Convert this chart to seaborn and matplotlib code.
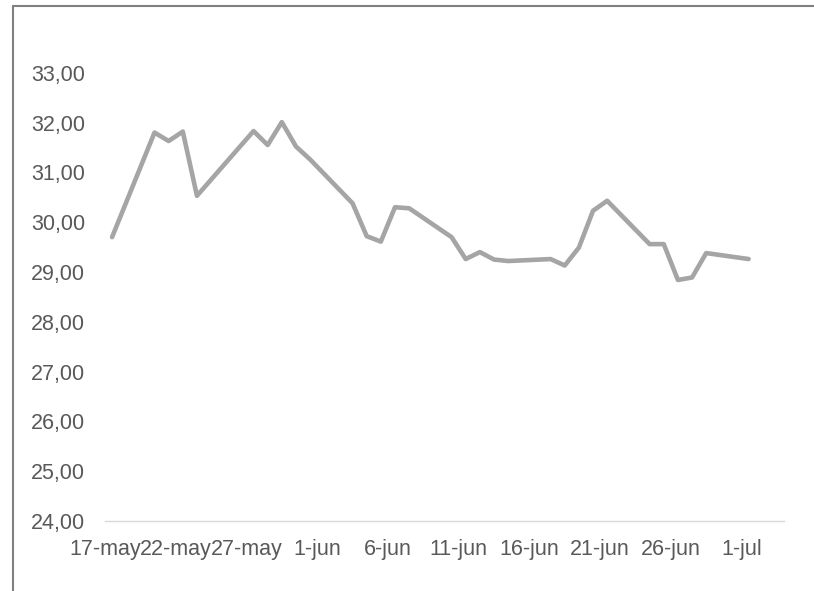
import matplotlib
matplotlib.use("Agg")
import matplotlib.pyplot as plt
import seaborn as sns
import pandas as pd
from matplotlib.lines import Line2D

dates = ["2019-05-17", "2019-05-20", "2019-05-21", "2019-05-22", "2019-05-23",
         "2019-05-27", "2019-05-28", "2019-05-29", "2019-05-30", "2019-05-31",
         "2019-06-03", "2019-06-04", "2019-06-05", "2019-06-06", "2019-06-07",
         "2019-06-10", "2019-06-11", "2019-06-12", "2019-06-13", "2019-06-14",
         "2019-06-17", "2019-06-18", "2019-06-19", "2019-06-20", "2019-06-21",
         "2019-06-24", "2019-06-25", "2019-06-26", "2019-06-27", "2019-06-28",
         "2019-07-01"]
values = [29.70, 31.80, 31.63, 31.82, 30.53,
          31.83, 31.55, 32.01, 31.52, 31.26,
          30.38, 29.72, 29.61, 30.30, 30.28,
          29.70, 29.26, 29.40, 29.25, 29.22,
          29.26, 29.13, 29.49, 30.23, 30.43,
          29.56, 29.56, 28.84, 28.89, 29.38,
          29.26]
tick_dates = ["2019-05-17", "2019-05-22", "2019-05-27", "2019-06-01", "2019-06-06",
              "2019-06-11", "2019-06-16", "2019-06-21", "2019-06-26", "2019-07-01"]
tick_labels = ["17-may", "22-may", "27-may", "1-jun", "6-jun",
               "11-jun", "16-jun", "21-jun", "26-jun", "1-jul"]
y_ticks = [24, 25, 26, 27, 28, 29, 30, 31, 32, 33]
y_labels = ["24,00", "25,00", "26,00", "27,00", "28,00", "29,00", "30,00", "31,00", "32,00", "33,00"]

sns.set_style("white")
plt.rcParams["font.family"] = ["Liberation Sans", "DejaVu Sans"]

df = pd.DataFrame({"date": pd.to_datetime(dates) + pd.Timedelta(hours=12), "value": values})

W, H = 814, 591
fig = plt.figure(figsize=(W / 100, H / 100), dpi=100)
ax = fig.add_axes([105 / W, (H - 521) / H, (784 - 105) / W, (521 - 23) / H])

sns.lineplot(data=df, x="date", y="value", ax=ax, color="#A5A5A5", linewidth=3.3,
             solid_joinstyle="round", solid_capstyle="round")

ax.set_xlim(pd.Timestamp("2019-05-17"), pd.Timestamp("2019-07-04"))
ax.set_ylim(24, 34)
ax.set_yticks(y_ticks)
ax.set_yticklabels(y_labels)
ax.set_xticks(pd.to_datetime(tick_dates))
ax.set_xticklabels(tick_labels)
ax.set_xlabel("")
ax.set_ylabel("")

for s in ["top", "right", "left"]:
    ax.spines[s].set_visible(False)
ax.spines["bottom"].set_color("#D9D9D9")
ax.spines["bottom"].set_linewidth(1.0)

ax.tick_params(axis="y", length=0, pad=14.5, labelsize=15.5, labelcolor="#595959")
ax.tick_params(axis="x", length=4.3, width=1.0, color="#D9D9D9", direction="out",
               pad=9.0, labelsize=15.5, labelcolor="#595959")

# chart border (partially visible)
fig.add_artist(Line2D([13 / W, 1.0], [(H - 6) / H, (H - 6) / H], transform=fig.transFigure,
                      color="#808080", linewidth=1.5))
fig.add_artist(Line2D([13 / W, 13 / W], [0.0, (H - 6) / H], transform=fig.transFigure,
                      color="#808080", linewidth=1.5))

fig.savefig("out.png", dpi=100)
